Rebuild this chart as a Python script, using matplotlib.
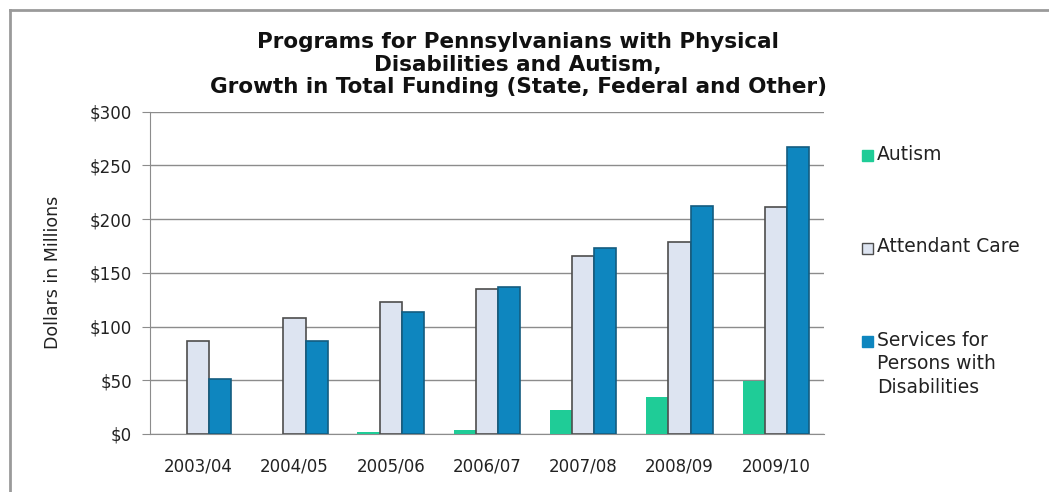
import matplotlib
matplotlib.use('Agg')
import matplotlib.pyplot as plt
from matplotlib.patches import Rectangle
from matplotlib.lines import Line2D
import numpy as np

years = ['2003/04', '2004/05', '2005/06', '2006/07', '2007/08', '2008/09', '2009/10']
autism = [0, 0, 1.5, 4, 22, 34, 49]
attendant_care = [87, 108, 123, 135, 166, 179, 211]
services = [51, 87, 114, 137, 173, 212, 267]

series_names = ['Autism', 'Attendant Care', 'Services for\nPersons with\nDisabilities']

# Figure settings
FONT = 'DejaVu Sans'
TITLE_FONT_SIZE = 15.5
AXIS_FONT_SIZE = 12
LEGEND_FONT_SIZE = 13.5
BAR_W = 0.23
COLORS = ['#1fcc97', '#dde4f1', '#0e86bf']
EDGES = ['none', '#4d4d4d', '#145c80']
LINE_W = [0, 1.2, 1.2]
W, H = 1049, 492

plt.rcParams['font.family'] = [FONT]

fig = plt.figure(figsize=(W / 100, H / 100), dpi=100)
ax = fig.add_axes([0.143, 0.1179, 0.6425, 0.655])

x = np.arange(len(years))
for i, vals in enumerate([autism, attendant_care, services]):
    ax.bar(x + (i - 1) * BAR_W, vals, BAR_W, color=COLORS[i],
           edgecolor=EDGES[i], linewidth=LINE_W[i], zorder=3)

# Format y axis
ax.set_ylim(0, 300)
ax.set_yticks(np.arange(0, 301, 50))
ax.set_yticklabels(['$%d' % v for v in range(0, 301, 50)])
ax.yaxis.grid(True, color='#8c8c8c', linewidth=1)
ax.set_axisbelow(True)
ax.set_ylabel('Dollars in Millions', fontsize=AXIS_FONT_SIZE + 0.5, labelpad=20,
              color='#222222')

# Format x axis
ax.set_xlim(-0.5, len(years) - 0.5)
ax.set_xticks(x)
ax.set_xticklabels(years)
ax.tick_params(axis='x', length=0, pad=17, labelsize=AXIS_FONT_SIZE, labelcolor='#222222')
ax.tick_params(axis='y', length=6, color='#8c8c8c', pad=7, labelsize=AXIS_FONT_SIZE,
               labelcolor='#222222')

for side in ['top', 'right']:
    ax.spines[side].set_visible(False)
for side in ['left', 'bottom']:
    ax.spines[side].set_color('#8c8c8c')

# Title
fig.text(0.494, 1 - 32 / H,
         'Programs for Pennsylvanians with Physical\nDisabilities and Autism,\n'
         'Growth in Total Funding (State, Federal and Other)',
         ha='center', va='top', fontsize=TITLE_FONT_SIZE, fontweight='bold',
         linespacing=1.17, color='#111111')

# Legend drawn by hand so the marker sits on the first text line
legend_center_px = [155, 248, 341]
for i, name in enumerate(series_names):
    cy = legend_center_px[i]
    fig.patches.append(Rectangle((862 / W, 1 - (cy + 5.5) / H), 11 / W, 11 / H,
                                 transform=fig.transFigure, facecolor=COLORS[i],
                                 edgecolor='#4d4d4d' if i == 1 else COLORS[i],
                                 linewidth=1))
    fig.text(877 / W, 1 - (cy - 10.5) / H, name, ha='left', va='top',
             fontsize=LEGEND_FONT_SIZE, linespacing=1.33, color='#222222')

# Outer frame (only left and top edges are visible)
fig.lines.append(Line2D([10 / W, 10 / W], [0, 1 - 10 / H], transform=fig.transFigure,
                        color='#9a9a9a', linewidth=2))
fig.lines.append(Line2D([10 / W, 1.0], [1 - 10 / H, 1 - 10 / H], transform=fig.transFigure,
                        color='#9a9a9a', linewidth=2))

fig.savefig('out.png', dpi=100)
